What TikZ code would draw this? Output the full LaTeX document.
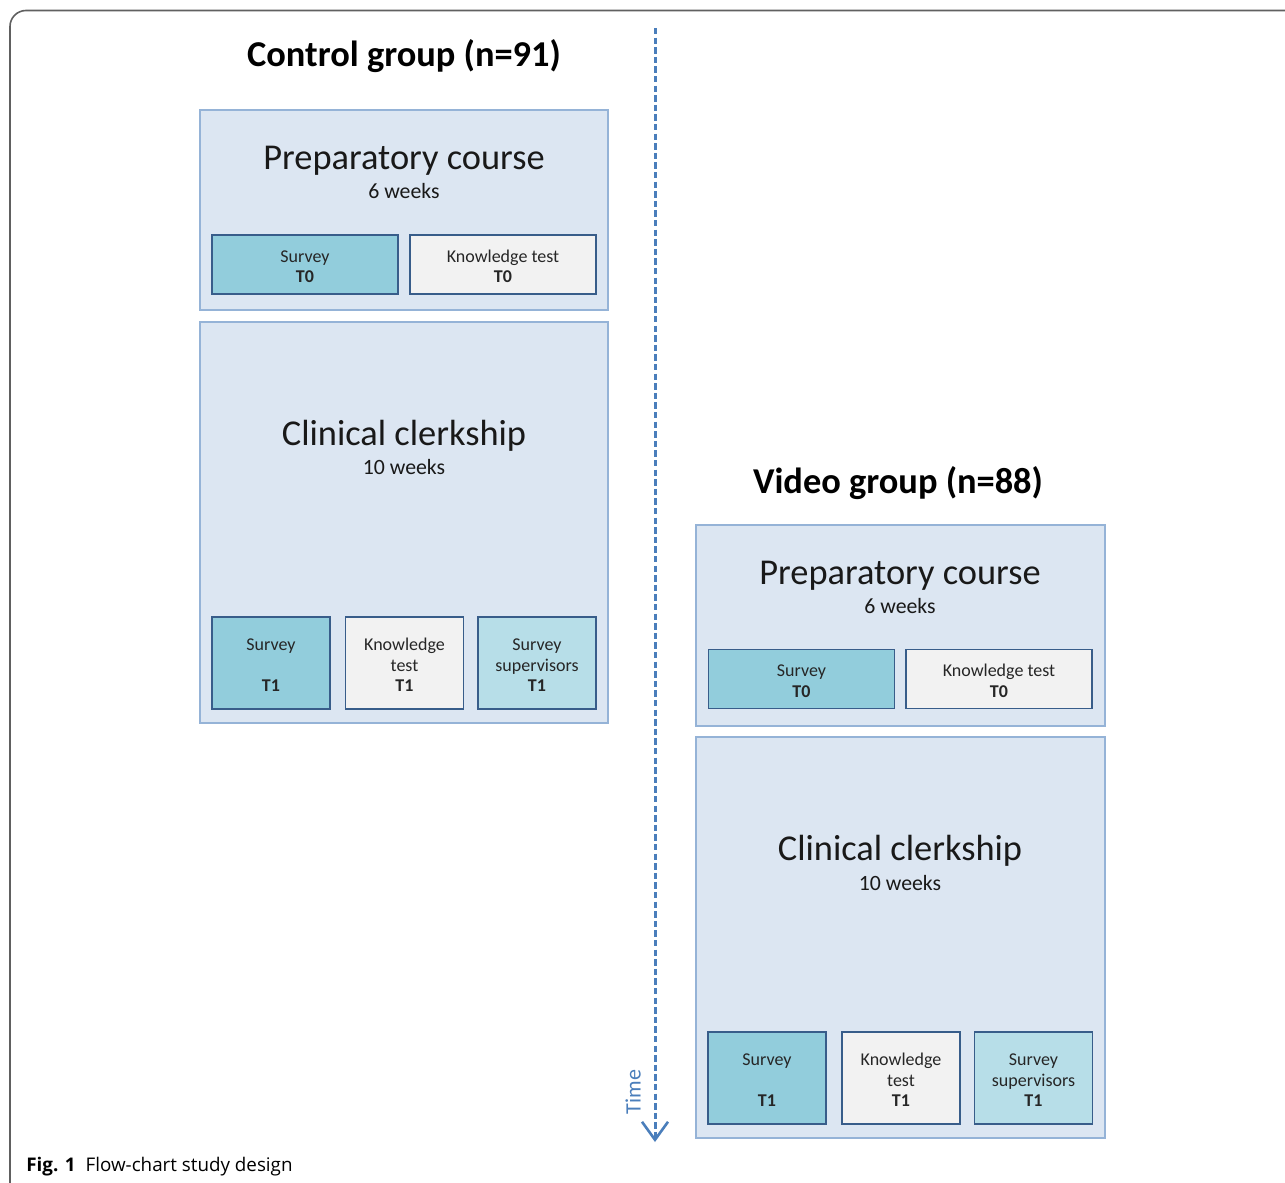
\documentclass[tikz,border=0pt]{standalone}
\usepackage{fontspec}
\setmainfont{Carlito}
\newfontfamily\capfont{Open Sans}
\usetikzlibrary{arrows.meta}
\definecolor{outerfill}{HTML}{DCE6F2}
\definecolor{outerline}{HTML}{95B3D7}
\definecolor{innerline}{HTML}{385D8A}
\definecolor{survfill}{HTML}{92CDDC}
\definecolor{knowfill}{HTML}{F2F2F2}
\definecolor{supfill}{HTML}{B7DEE8}
\definecolor{timeblue}{HTML}{4A7EBB}
\definecolor{framegray}{HTML}{606060}
\newcommand{\px}[2]{\fontsize{#1}{#2}\selectfont}
\newcommand{\strt}{\rule{0pt}{8pt}}
\tikzset{
  outerbox/.style={draw=outerline, fill=outerfill, line width=1pt, inner sep=0pt},
  innerbox/.style={draw=innerline, line width=0.9pt, inner sep=0pt, align=center, text=black!85},
  survbox/.style={innerbox, fill=survfill},
  knowbox/.style={innerbox, fill=knowfill},
  supbox/.style={innerbox, fill=supfill},
  wide/.style={minimum width=93pt, minimum height=29.5pt},
  narrow/.style={minimum width=59pt, minimum height=46pt},
  grouptitle/.style={font=\bfseries\px{18.2}{22}, inner sep=0pt},
  bigtitle/.style={font=\px{18.2}{22}, inner sep=0pt, text=black!90},
  weeks/.style={font=\px{10.9}{13}, inner sep=0pt, text=black!90},
  smalltxt/.style={font=\px{9}{10.3}},
  timearrow/.style={draw=timeblue, line width=1.5pt, dash pattern=on 3.2pt off 1.6pt, -{Straight Barb[length=9pt,width=13pt,line width=1.3pt]}},
  frameline/.style={draw=framegray, line width=0.8pt, rounded corners=8pt}
}
\begin{document}
\begin{tikzpicture}[x=0.5pt, y=-0.5pt]
\useasboundingbox (0,0) rectangle (1285,1183);
\clip (0,0) rectangle (1285,1183);
\fill[white] (0,0) rectangle (1285,1183);
\draw[frameline] (10,1200) -- (10,10.5) -- (1300,10.5);

% Control group
\node[grouptitle] (ctitle) at (404,56) {Control group (n=91)};
\node[outerbox, minimum width=204pt, minimum height=100pt] (cprep) at (404,210) {};
\node[bigtitle] (cpreptitle) at (404,161) {Preparatory course};
\node[weeks] (cprepweeks) at (404,191) {6 weeks};
\node[survbox, wide, smalltxt] (cs0) at (305,264.5) {\strt Survey\\\textbf{T0}};
\node[knowbox, wide, smalltxt] (ck0) at (503,264.5) {\strt Knowledge test\\\textbf{T0}};

\node[outerbox, minimum width=204pt, minimum height=200.5pt] (cclin) at (404,522.5) {};
\node[bigtitle] (cclintitle) at (404,436) {Clinical clerkship};
\node[weeks] (cclinweeks) at (404,467) {10 weeks};
\node[survbox, narrow, smalltxt] (cs1) at (271,663) {\strt Survey\\[10.3pt]\textbf{T1}};
\node[knowbox, narrow, smalltxt] (ck1) at (404.5,663) {\strt Knowledge\\test\\\textbf{T1}};
\node[supbox, narrow, smalltxt] (cv1) at (537,663) {\strt Survey\\supervisors\\\textbf{T1}};

% Video group
\node[grouptitle] (vtitle) at (898,483) {Video group (n=88)};
\node[outerbox, minimum width=204.5pt, minimum height=100.5pt] (vprep) at (900.5,625.5) {};
\node[bigtitle] (vpreptitle) at (900,576) {Preparatory course};
\node[weeks] (vprepweeks) at (900,606) {6 weeks};
\node[survbox, wide, smalltxt] (vs0) at (801.5,679) {\strt Survey\\\textbf{T0}};
\node[knowbox, wide, smalltxt] (vk0) at (999,679) {\strt Knowledge test\\\textbf{T0}};

\node[outerbox, minimum width=204.5pt, minimum height=200.5pt] (vclin) at (900.5,937.5) {};
\node[bigtitle] (vclintitle) at (900,851) {Clinical clerkship};
\node[weeks] (vclinweeks) at (900,883) {10 weeks};
\node[survbox, narrow, smalltxt] (vs1) at (767,1078) {\strt Survey\\[10.3pt]\textbf{T1}};
\node[knowbox, narrow, smalltxt] (vk1) at (901,1078) {\strt Knowledge\\test\\\textbf{T1}};
\node[supbox, narrow, smalltxt] (vv1) at (1033.5,1078) {\strt Survey\\supervisors\\\textbf{T1}};

% Time arrow
\coordinate (tstart) at (655,28);
\coordinate (tend) at (655,1142);
\draw[timearrow] (tstart) -- (tend);
\node[rotate=90, text=timeblue, font=\px{11}{13}, inner sep=0pt] (timelbl) at (633,1092) {Time};

% Caption
\node[anchor=west, inner sep=0pt, font=\capfont\px{9.4}{11}] (caption) at (26,1167) {\textbf{Fig. 1}\hspace{5pt}Flow-chart study design};
\end{tikzpicture}
\end{document}
